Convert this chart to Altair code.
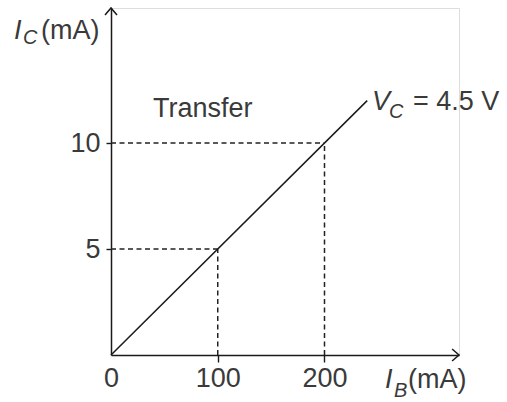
import altair as alt
import pandas as pd

# Transfer characteristic: collector current vs base current at V_C = 4.5 V
ib_line = [0, 240]      # I_B (mA)
ic_line = [0, 12]       # I_C (mA)

# Read-off points marked with dashed guides
ib_guides = [100, 200]
ic_guides = [5, 10]

x_tick_values = [0, 100, 200]
y_tick_values = [5, 10]

x_max = 326
y_max = 16.37

FONT = "Liberation Sans"
TEXT_COLOR = "#3a3a3a"
INK = "#1a1a1a"
FS = 27

line_df = pd.DataFrame({"ib": ib_line, "ic": ic_line})
guide_df = pd.DataFrame({"ib": ib_guides, "ic": ic_guides, "zero": [0, 0]})

x_scale = alt.Scale(domain=[0, x_max], nice=False, zero=False)
y_scale = alt.Scale(domain=[0, y_max], nice=False, zero=False)

x_axis = alt.Axis(
    values=x_tick_values,
    title=None,
    grid=False,
    domainColor=INK,
    domainWidth=1.5,
    tickColor=INK,
    tickWidth=1.4,
    tickSize=7,
    tickOpacity={"condition": {"test": "datum.value === 0", "value": 0}, "value": 1},
    labelFont=FONT,
    labelFontSize=FS,
    labelColor=TEXT_COLOR,
    labelPadding=3,
    labelFlush=False,
    labelOverlap=False,
)
y_axis = alt.Axis(
    values=y_tick_values,
    title=None,
    grid=False,
    domainColor=INK,
    domainWidth=1.5,
    tickColor=INK,
    tickWidth=1.4,
    tickSize=5,
    labelFont=FONT,
    labelFontSize=FS,
    labelColor=TEXT_COLOR,
    labelPadding=6,
    labelFlush=False,
    labelOverlap=False,
)

X = lambda f: alt.X(f, type="quantitative", scale=x_scale, axis=x_axis)
Y = lambda f: alt.Y(f, type="quantitative", scale=y_scale, axis=y_axis)

curve = alt.Chart(line_df).mark_line(color=INK, strokeWidth=1.5).encode(
    x=X("ib"), y=Y("ic")
)

dash = [5, 3.5]
vert_guides = alt.Chart(guide_df).mark_rule(
    color="#222222", strokeWidth=1.5, strokeDash=dash
).encode(x=X("ib"), y=Y("zero"), y2="ic")

horiz_guides = alt.Chart(guide_df).mark_rule(
    color="#222222", strokeWidth=1.5, strokeDash=dash
).encode(x=X("zero"), x2="ib", y=Y("ic"))

# Arrowheads at the ends of both axes
arrow_df = pd.DataFrame(
    {
        "ib": [x_max, 0],
        "ic": [0, y_max],
        "dir": ["right", "up"],
    }
)
arrow_right = alt.Chart(arrow_df).transform_filter("datum.dir == 'right'").mark_point(
    shape="M -1.15 -1 L 0 0 L -1.15 1",
    filled=False,
    stroke=INK,
    strokeWidth=1.5,
    size=144,
    opacity=1,
).encode(x=X("ib"), y=Y("ic"))
arrow_up = alt.Chart(arrow_df).transform_filter("datum.dir == 'up'").mark_point(
    shape="M -1 1.15 L 0 0 L 1 1.15",
    filled=False,
    stroke=INK,
    strokeWidth=1.5,
    size=144,
    opacity=1,
).encode(x=X("ib"), y=Y("ic"))

one = pd.DataFrame({"k": [0]})


def label(text, x, y, size=FS, italic=False, align="left", baseline="alphabetic"):
    kw = dict(
        text=text,
        font=FONT,
        fontSize=size,
        color=TEXT_COLOR,
        align=align,
        baseline=baseline,
    )
    if italic:
        kw["fontStyle"] = "italic"
    return alt.Chart(one).mark_text(**kw).encode(x=alt.value(x), y=alt.value(y))


# Plot area origin is at (111, 8) in the page; label positions are in plot pixels
texts = [
    # y-axis title: I_C (mA)
    label("I", -97, 31, italic=True),
    label("C", -88, 36, size=20, italic=True),
    label("(mA)", -70, 31),
    # x-axis title: I_B(mA)
    label("I", 274, 380, italic=True),
    label("B", 283, 389, size=20, italic=True),
    label("(mA)", 297, 380),
    # annotations
    label("Transfer", 42, 109),
    label("V", 261, 102, italic=True),
    label("C", 278, 110, size=20, italic=True),
    label("= 4.5 V", 302, 102),
]

chart = alt.layer(
    vert_guides, horiz_guides, curve, arrow_right, arrow_up, *texts
).properties(
    width=348,
    height=347,
    padding={"left": 111, "top": 8, "right": 48, "bottom": 47},
    autosize=alt.AutoSizeParams(type="none"),
).configure_view(stroke=None).configure(background="white")

chart.save("out.html", embed_options={"renderer": "svg", "actions": False})
